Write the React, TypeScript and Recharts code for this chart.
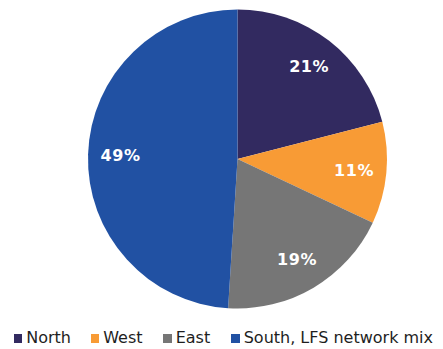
import React from "react";
import { PieChart, Pie, Cell, Legend } from "recharts";

const regions = ["North", "West", "East", "South, LFS network mix"];
const shares = [21, 11, 19, 49];
const colors = ["#322A60", "#F89B35", "#767676", "#2151A3"];
const legendX = [13.5, 90.5, 163, 231];

const data = regions.map((name, i) => ({ name, value: shares[i] }));

const RAD = Math.PI / 180;

const renderLabel = (props: any) => {
  const { cx, cy, midAngle, value } = props;
  const r = 117;
  const x = cx + r * Math.cos(-midAngle * RAD);
  const y = cy + r * Math.sin(-midAngle * RAD);
  return (
    <text
      x={x}
      y={y}
      fill="#ffffff"
      textAnchor="middle"
      dominantBaseline="central"
      fontFamily="DejaVu Sans, Verdana, sans-serif"
      fontWeight="bold"
      fontSize={16}
      letterSpacing={0.6}
    >
      {`${value}%`}
    </text>
  );
};

const renderLegend = () => (
  <div
    style={{
      position: "relative",
      width: 443,
      height: 19,
      fontFamily: "DejaVu Sans, Verdana, sans-serif",
      fontSize: 16,
      color: "#1e1e1e",
      lineHeight: "16px",
      whiteSpace: "nowrap",
    }}
  >
    {data.map((d, i) => (
      <React.Fragment key={d.name}>
        <span
          style={{
            position: "absolute",
            left: legendX[i],
            top: 4,
            width: 8.7,
            height: 9,
            background: colors[i],
          }}
        />
        <span style={{ position: "absolute", left: legendX[i] + 12.7, top: 0 }}>{d.name}</span>
      </React.Fragment>
    ))}
  </div>
);

export default function App() {
  return (
    <div style={{ position: "absolute", left: 0, top: 0, width: 443, height: 349, background: "#fff" }}>
      <PieChart width={443} height={349} margin={{ top: 0, right: 0, bottom: 0, left: 0 }}>
        <Pie
          data={data}
          dataKey="value"
          nameKey="name"
          cx={237.5}
          cy={159}
          outerRadius={149.5}
          startAngle={90}
          endAngle={-270}
          stroke="none"
          label={renderLabel}
          labelLine={false}
          isAnimationActive={false}
        >
          {data.map((d, i) => (
            <Cell key={d.name} fill={colors[i]} />
          ))}
        </Pie>
        <Legend
          content={renderLegend}
          wrapperStyle={{ position: "absolute", left: 0, top: 330, width: 443 }}
        />
      </PieChart>
    </div>
  );
}
